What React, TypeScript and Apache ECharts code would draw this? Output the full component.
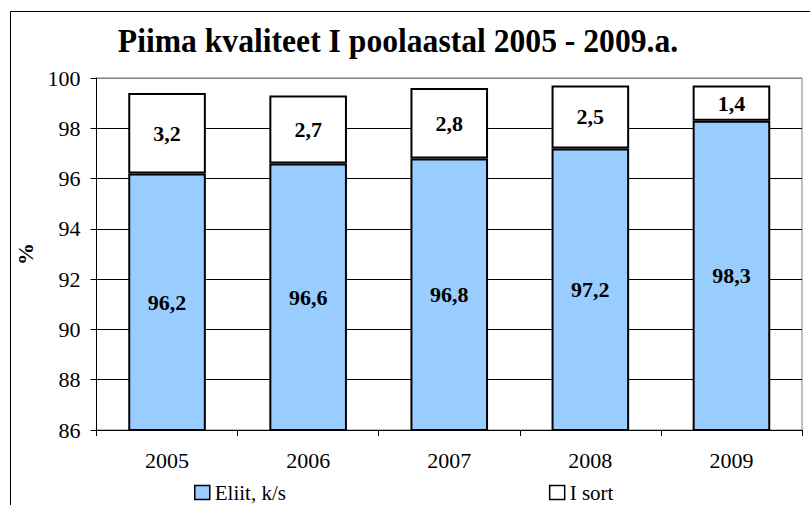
import React, { useEffect, useRef } from "react";
import * as echarts from "echarts";

const categories = ["2005", "2006", "2007", "2008", "2009"];
const eliit = [96.2, 96.6, 96.8, 97.2, 98.3];
const iSort = [3.2, 2.7, 2.8, 2.5, 1.4];
const seriesNames = ["Eliit, k/s", "I sort"];
const titleText = "Piima kvaliteet I poolaastal 2005 - 2009.a.";
const yAxisName = "%";

const FONT = "Times New Roman, Liberation Serif, serif";

export default function App() {
  const ref = useRef<HTMLDivElement>(null);
  useEffect(() => {
    if (!ref.current) return;
    const chart = echarts.init(ref.current, null, { renderer: "svg" });
    const fmt = (p: any) => Number(p.value).toFixed(1).replace(".", ",");
    const labelStyle = {
      show: true,
      position: "inside",
      formatter: fmt,
      fontFamily: FONT,
      fontWeight: "bold",
      fontSize: 22,
      color: "#000",
    };
    chart.setOption({
      animation: false,
      backgroundColor: "#fff",
      textStyle: { fontFamily: FONT, color: "#000" },
      graphic: [
        {
          type: "rect",
          z: -10,
          shape: { x: 10.5, y: 11.5, width: 900, height: 600 },
          style: { fill: "none", stroke: "#000", lineWidth: 1 },
        },
        {
          type: "text",
          x: 398,
          y: 41,
          scaleX: 0.93,
          style: {
            text: titleText,
            fontFamily: FONT,
            fontWeight: "bold",
            fontSize: 34,
            fill: "#000",
            textAlign: "center",
            textVerticalAlign: "middle",
          },
        },
      ],
      grid: {
        left: 96.5,
        right: 8,
        top: 78,
        bottom: 75,
        show: true,
        borderColor: "#808080",
        borderWidth: 1,
        backgroundColor: "transparent",
      },
      legend: {
        left: 194,
        top: 482,
        padding: 0,
        itemWidth: 15,
        itemHeight: 14,
        itemGap: 263,
        icon: "rect",
        textStyle: { fontFamily: FONT, fontSize: 21, color: "#000" },
        data: [
          { name: seriesNames[0], itemStyle: { color: "#99CCFF", borderColor: "#000", borderWidth: 1.5 } },
          { name: seriesNames[1], itemStyle: { color: "#fff", borderColor: "#000", borderWidth: 1.5 } },
        ],
      },
      xAxis: {
        type: "category",
        data: categories,
        axisLine: { show: true, lineStyle: { color: "#000", width: 1 } },
        axisTick: { show: true, length: 6, lineStyle: { color: "#000" } },
        axisLabel: { fontFamily: FONT, fontSize: 22, color: "#000", margin: 19 },
      },
      yAxis: {
        type: "value",
        min: 86,
        max: 100,
        interval: 2,
        name: yAxisName,
        nameLocation: "middle",
        nameGap: 58,
        nameRotate: 90,
        nameTextStyle: { fontFamily: FONT, fontSize: 22, fontWeight: "bold", color: "#000" },
        axisLine: { show: true, lineStyle: { color: "#000", width: 1 } },
        axisTick: { show: true, length: 6, lineStyle: { color: "#000" } },
        axisLabel: { fontFamily: FONT, fontSize: 22, color: "#000", margin: 16 },
        splitLine: {
          show: true,
          lineStyle: {
            color: ["#000", "#000", "#000", "#000", "#000", "#000", "#000", "#808080"],
            width: 1,
          },
        },
      },
      series: [
        {
          name: seriesNames[0],
          type: "bar",
          stack: "total",
          barWidth: "55%",
          data: eliit,
          itemStyle: { color: "#99CCFF", borderColor: "#000", borderWidth: 2 },
          label: labelStyle,
        },
        {
          name: seriesNames[1],
          type: "bar",
          stack: "total",
          barWidth: "55%",
          data: iSort,
          itemStyle: { color: "#fff", borderColor: "#000", borderWidth: 2 },
          label: labelStyle,
        },
      ],
    });
    return () => chart.dispose();
  }, []);
  return (
    <div
      ref={ref}
      style={{ position: "absolute", left: 0, top: 0, width: 810, height: 505 }}
    />
  );
}
